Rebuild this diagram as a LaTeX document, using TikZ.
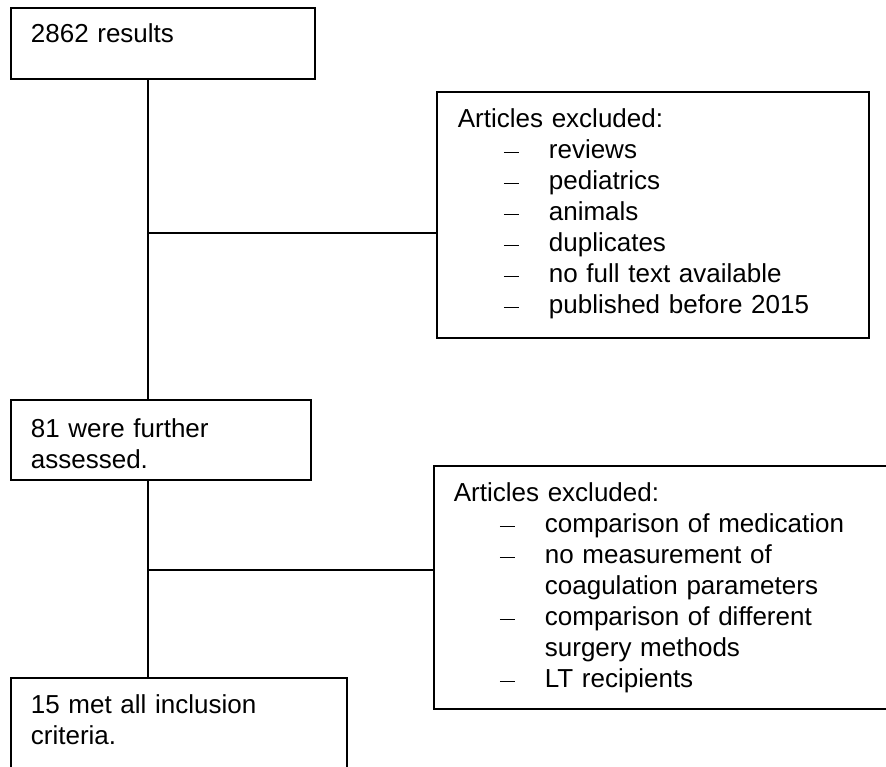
\documentclass[tikz,border=0pt]{standalone}
\usepackage{fontspec}
\setmainfont{Liberation Sans}
\usetikzlibrary{positioning}

% excluded-list lines
\newcommand{\exitem}[1]{\\\hspace*{46pt}\makebox[45pt][l]{\rule[6pt]{15pt}{1.1pt}}#1}
\newcommand{\excont}[1]{\\\hspace*{91pt}#1}

\begin{document}
\begin{tikzpicture}[x=1pt, y=-1pt]
    % Styles
    \tikzset{
        box/.style={draw, line width=1.8pt, anchor=north west, align=left, inner xsep=20pt, inner ysep=0pt, text height=36pt, font=\fontsize{26}{31}\selectfont},
        link/.style={draw, line width=1.8pt}
    }
    \path[use as bounding box, clip] (0,0) rectangle (886,767);

    % Nodes
    \node [box, text width=264pt, text height=35pt, text depth=36pt] (results) at (10,7) {2862 results};
    \node [box, text width=260pt, text height=38pt, text depth=42pt] (assessed) at (10,399) {81 were further\\assessed.};
    \node [box, text width=296pt, text depth=80pt] (included) at (10,677) {15 met all inclusion\\criteria.};
    \node [box, inner xsep=21pt, text width=390pt, text depth=210pt] (excl1) at (436,91) {Articles excluded:%
        \exitem{reviews}\exitem{pediatrics}\exitem{animals}\exitem{duplicates}%
        \exitem{no full text available}\exitem{published before 2015}};
    \node [box, text width=440pt, text depth=207pt] (excl2) at (433,465) {Articles excluded:%
        \exitem{comparison of medication}\exitem{no measurement of}\excont{coagulation parameters}%
        \exitem{comparison of different}\excont{surgery methods}\exitem{LT recipients}};

    % Junctions
    \coordinate (spine) at (148,0);
    \coordinate (j1) at (148,233);
    \coordinate (j2) at (148,570);

    % Paths
    \path [link] (results.south -| spine) -- (assessed.north -| spine);
    \path [link] (assessed.south -| spine) -- (included.north -| spine);
    \path [link] (j1) -- (j1 -| excl1.west);
    \path [link] (j2) -- (j2 -| excl2.west);
\end{tikzpicture}
\end{document}
